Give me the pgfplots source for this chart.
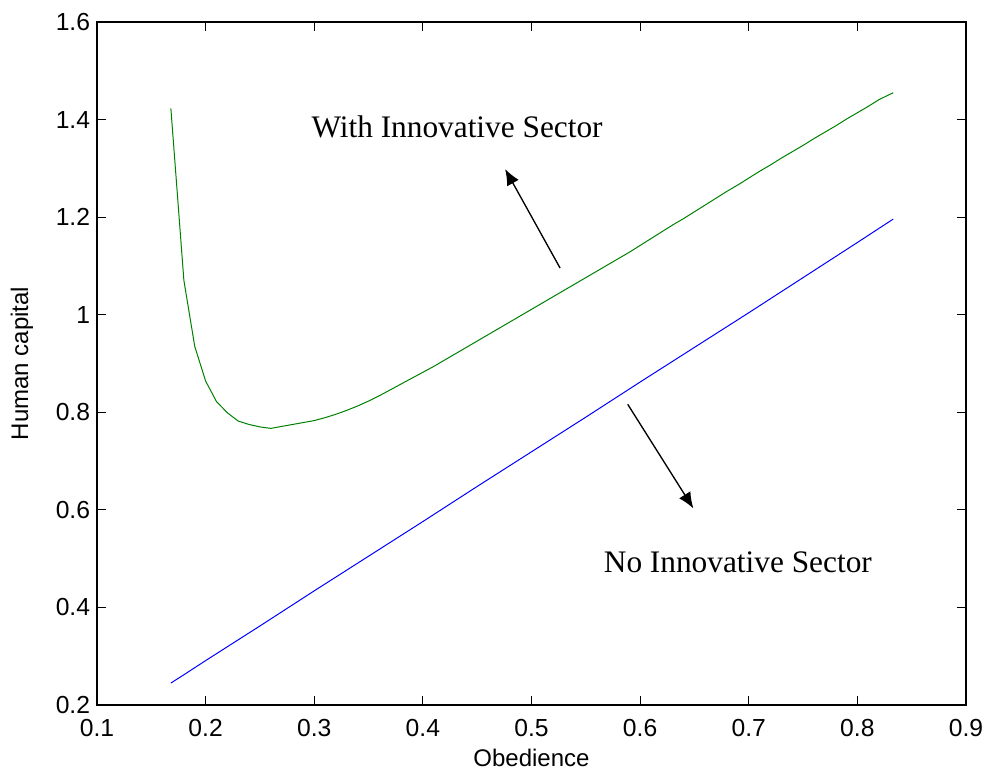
\documentclass[border=0pt]{standalone}
\usepackage{fontspec}
\setmainfont{Liberation Sans}
\newfontfamily\timesfont{Liberation Serif}
\usepackage{pgfplots}
\pgfplotsset{compat=1.18}
\usetikzlibrary{arrows.meta}
\begin{document}
\begin{tikzpicture}
\begin{axis}[
  scale only axis,
  width=651.75pt, height=512.25pt,
  xmin=0.1, xmax=0.9, ymin=0.2, ymax=1.6,
  xtick={0.1,0.2,...,0.9}, ytick={0.2,0.4,...,1.6},
  xticklabels={0.1,0.2,0.3,0.4,0.5,0.6,0.7,0.8,0.9},
  yticklabels={0.2,0.4,0.6,0.8,1,1.2,1.4,1.6},
  tick align=inside, major tick length=7pt,
  tick style={black, line width=0.6pt},
  axis line style={black, line width=0.8pt},
  ticklabel style={font=\fontsize{18.5}{20}\selectfont},
  /pgf/number format/assume math mode=true,
  xticklabel style={anchor=north, inner sep=0pt, yshift=-10.5pt},
  yticklabel style={anchor=east, inner sep=0pt, xshift=-5pt},
  label style={font=\fontsize{18}{20}\selectfont},
  xlabel={Obedience}, ylabel={Human capital},
  xlabel style={at={(axis description cs:0.5,-0.078)}, anchor=center, inner sep=0pt},
  ylabel style={at={(axis description cs:-0.0863,0.5)}, anchor=center, inner sep=0pt},
]
\addplot[color={rgb,1:red,0;green,0.5;blue,0}, line width=0.75pt] coordinates {
(0.168,1.423) (0.18,1.070) (0.19,0.935) (0.20,0.864) (0.21,0.822) (0.22,0.799)
(0.23,0.782) (0.24,0.775) (0.25,0.770) (0.26,0.767) (0.27,0.771) (0.28,0.775)
(0.29,0.779) (0.30,0.783) (0.31,0.789) (0.32,0.796) (0.33,0.804) (0.34,0.813)
(0.35,0.823) (0.36,0.834) (0.37,0.846) (0.38,0.858) (0.39,0.870) (0.40,0.882)
(0.41,0.894) (0.42,0.907) (0.43,0.920) (0.44,0.933) (0.45,0.946) (0.46,0.959)
(0.47,0.972) (0.48,0.985) (0.49,0.998) (0.50,1.011) (0.51,1.024) (0.52,1.037)
(0.53,1.050) (0.54,1.063) (0.55,1.076) (0.56,1.089) (0.57,1.102) (0.58,1.115)
(0.59,1.128) (0.60,1.142) (0.61,1.156) (0.62,1.170) (0.63,1.184) (0.64,1.197)
(0.65,1.211) (0.66,1.225) (0.67,1.239) (0.68,1.253) (0.69,1.266) (0.70,1.280)
(0.71,1.294) (0.72,1.307) (0.73,1.321) (0.74,1.334) (0.75,1.347) (0.76,1.361)
(0.77,1.374) (0.78,1.387) (0.79,1.401) (0.80,1.414) (0.81,1.427) (0.82,1.441)
(0.833,1.455)
};
\addplot[color=blue, line width=0.75pt] coordinates {
(0.168,0.245) (0.18,0.262) (0.20,0.291) (0.25,0.362) (0.30,0.434) (0.35,0.505)
(0.40,0.576) (0.45,0.648) (0.50,0.719) (0.55,0.790) (0.60,0.862) (0.65,0.933)
(0.70,1.004) (0.75,1.076) (0.80,1.148) (0.833,1.196)
};
\draw[-{Latex[length=12pt,width=10pt]}, line width=1pt] (axis cs:0.5263,1.0957) -- (axis cs:0.4757,1.2986);
\draw[-{Latex[length=12pt,width=10pt]}, line width=1pt] (axis cs:0.5886,0.8163) -- (axis cs:0.649,0.603);
\node[anchor=base, font=\timesfont\fontsize{23.5}{26}\selectfont] at (axis cs:0.4315,1.364) {With Innovative Sector};
\node[anchor=base, font=\timesfont\fontsize{23.5}{26}\selectfont] at (axis cs:0.690,0.4726) {No Innovative Sector};
\end{axis}
\path (current axis.south west) ++(-72.75pt,-51.75pt) coordinate (bbA);
\path (current axis.south west) ++(666pt,528.75pt) coordinate (bbB);
\path (bbA) rectangle (bbB);
\end{tikzpicture}
\end{document}
